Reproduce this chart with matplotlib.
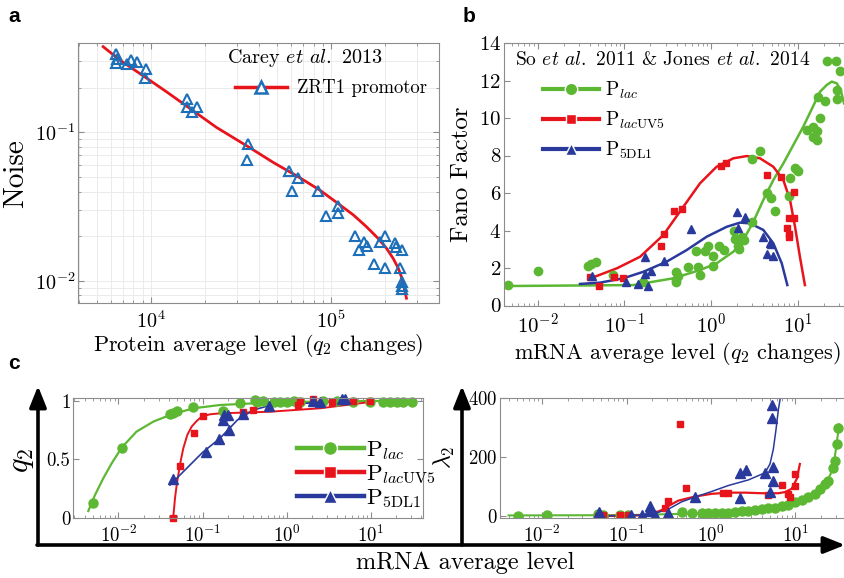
import matplotlib
matplotlib.use('Agg')
import matplotlib.pyplot as plt
from matplotlib.lines import Line2D
from matplotlib.patches import FancyArrowPatch
from matplotlib.ticker import NullFormatter, FixedLocator, FixedFormatter

plt.rcParams['font.family'] = 'serif'
plt.rcParams['font.serif'] = ['cmr10']
plt.rcParams['mathtext.fontset'] = 'cm'
plt.rcParams['axes.formatter.use_mathtext'] = True

# ---- panel a: Carey et al. 2013, ZRT1 promotor ----
a_x = [6370, 6370, 6500, 7390, 7720, 8390, 9350, 9230, 15900, 15800, 17000, 18100,
       34700, 34200, 58500, 65600, 60800, 84700, 109000, 109000, 94200, 136000,
       143000, 152000, 159000, 173000, 186000, 200000, 200000, 226000, 229000,
       246000, 240000, 249000, 249000, 249000]
a_y = [0.335, 0.294, 0.310, 0.288, 0.306, 0.299, 0.265, 0.231, 0.167, 0.149, 0.137,
       0.147, 0.0834, 0.0652, 0.0552, 0.049, 0.0405, 0.0403, 0.0321, 0.0288, 0.0275,
       0.0201, 0.0162, 0.0182, 0.0172, 0.013, 0.0182, 0.0201, 0.0122, 0.0181, 0.017,
       0.0162, 0.0122, 0.00989, 0.00925, 0.0088]
a_fit_x = [5430, 6730, 9350, 12200, 15800, 23100, 34700, 47700, 65600, 86500, 109000,
           133000, 157000, 182000, 203000, 221000, 236000, 249000, 256000, 262000]
a_fit_y = [0.377, 0.306, 0.234, 0.1875, 0.150, 0.108, 0.080, 0.0628, 0.0503, 0.0409,
           0.0333, 0.0278, 0.0232, 0.0194, 0.0166, 0.0142, 0.0122, 0.0102, 0.0087, 0.00766]

# ---- panel b: Fano factor ----
b_lac_x = [0.00454, 0.0102, 0.0384, 0.0409, 0.0468, 0.0733, 0.164, 0.395, 0.395, 0.414,
           0.395, 0.542, 0.678, 0.709, 0.741, 0.848, 0.927, 1.06, 1.06, 1.24, 1.41, 1.85,
           1.90, 2.02, 2.12, 2.28, 2.42, 2.95, 2.95, 3.69, 4.46, 4.88, 5.43, 8.12, 9.29,
           9.72, 10.2, 7.91, 12.7, 15.2, 16.7, 16.7, 18.2, 17.0, 20.9, 21.8, 27.3, 30.7,
           28.5, 28.5, 15.2]
b_lac_y = [1.12, 1.82, 2.12, 2.21, 2.30, 1.63, 1.27, 1.38, 1.77, 1.59, 1.27, 2.07, 2.92,
           2.04, 1.63, 2.92, 3.19, 2.65, 2.12, 3.19, 2.96, 3.95, 3.54, 3.19, 3.04, 3.66,
           3.49, 4.48, 7.79, 8.23, 6.02, 5.75, 5.04, 6.81, 7.35, 7.22, 7.17, 5.84, 9.38,
           9.5, 8.85, 9.29, 10.0, 11.1, 10.92, 13.04, 13.04, 12.53, 11.5, 11.03, 8.99]
b_lac_fit_x = [0.0048, 0.127, 0.367, 0.747, 1.16, 1.81, 2.36, 3.08, 4.01, 5.23, 6.83,
               11.6, 18.1, 21.6, 24.7, 28.2, 31.3, 34.2]
b_lac_fit_y = [1.04, 1.09, 1.45, 1.89, 2.25, 2.87, 3.49, 4.47, 5.63, 6.69, 7.58,
               9.54, 11.4, 11.76, 11.94, 11.85, 11.49, 10.78]

b_uv5_x = [0.0402, 0.0512, 0.0766, 0.0959, 0.262, 0.286, 0.378, 0.461, 1.29, 1.48, 4.46,
           6.38, 9.06, 7.98, 9.06, 7.43, 7.84, 7.84]
b_uv5_y = [1.5, 1.03, 1.5, 1.45, 3.15, 3.84, 5.04, 5.13, 7.43, 7.58, 6.94, 6.85, 6.07,
           4.69, 4.69, 4.11, 3.81, 3.68]
b_uv5_fit_x = [0.0459, 0.0817, 0.152, 0.282, 0.48, 0.747, 1.16, 1.81, 2.58, 3.67, 5.23,
               6.83, 8.15, 9.31, 10.6, 12.1]
b_uv5_fit_y = [1.54, 1.98, 2.60, 3.76, 5.27, 6.52, 7.40, 7.85, 7.97, 7.85, 7.40, 6.69,
               5.63, 4.20, 2.60, 1.09]

b_5dl_x = [0.042, 0.105, 0.144, 0.188, 0.172, 0.172, 0.202, 0.286, 0.588, 1.97, 2.02,
           2.49, 3.97, 4.74, 4.96, 4.46, 5.19]
b_5dl_y = [1.56, 1.27, 1.15, 1.06, 2.57, 1.68, 1.86, 2.35, 4.07, 4.99, 4.16, 4.74, 3.63,
           3.36, 3.27, 2.74, 2.65]
b_5dl_fit_x = [0.0308, 0.0525, 0.0975, 0.166, 0.308, 0.525, 0.892, 1.52, 2.16, 2.82,
               4.01, 5.23, 6.54, 7.59]
b_5dl_fit_y = [1.15, 1.22, 1.45, 1.80, 2.34, 2.96, 3.67, 4.20, 4.42, 4.38, 4.03, 3.32,
               2.25, 1.09]

# ---- panel c left: q2 ----
q_lac_x = [0.00493, 0.0109, 0.041, 0.0449, 0.0492, 0.0776, 0.176, 0.279, 0.42, 0.44, 0.53,
           0.70, 0.84, 1.01, 1.21, 1.45, 2.72, 3.93, 6.2, 9.8, 14.1, 16.9, 20.3, 24.4, 30.6]
q_lac_y = [0.127, 0.60, 0.884, 0.893, 0.912, 0.95, 0.912, 0.977, 1.006, 0.986, 0.997, 0.99,
           0.99, 0.99, 0.995, 0.99, 1.0, 0.995, 0.99, 0.99, 0.99, 0.99, 0.99, 0.99, 0.99]
q_lac_fit_x = [0.00438, 0.00525, 0.0066, 0.0083, 0.0109, 0.0164, 0.026, 0.041, 0.0776,
               0.161, 0.40, 1.58, 9.8, 30.6]
q_lac_fit_y = [0.062, 0.197, 0.34, 0.467, 0.60, 0.737, 0.822, 0.878, 0.935, 0.963, 0.977,
               0.99, 0.997, 0.997]

q_uv5_x = [0.0449, 0.0538, 0.0796, 0.102, 0.305, 0.40, 1.38, 1.44, 2.07, 3.5, 6.2, 9.8]
q_uv5_y = [0.0, 0.445, 0.728, 0.87, 0.905, 0.92, 0.96, 1.0, 1.01, 0.99, 1.0, 1.0]
q_uv5_fit_x = [0.0449, 0.047, 0.0492, 0.0538, 0.059, 0.0659, 0.0741, 0.0851, 0.0975,
               0.1225, 0.161, 0.634, 2.49, 10.2]
q_uv5_fit_y = [0.013, 0.170, 0.283, 0.454, 0.595, 0.709, 0.779, 0.827, 0.864, 0.884,
               0.892, 0.906, 0.935, 0.99]

q_5dl_x = [0.0449, 0.111, 0.155, 0.204, 0.176, 0.2, 0.18, 0.305, 0.62, 2.07, 2.49, 4.6, 5.0]
q_5dl_y = [0.331, 0.567, 0.672, 0.751, 0.836, 0.878, 0.88, 0.89, 0.958, 1.0, 0.99, 1.01, 1.01]
q_5dl_fit_x = [0.041, 0.1, 0.161, 0.26, 0.40, 0.634, 2.5, 5.0]
q_5dl_fit_y = [0.283, 0.56, 0.68, 0.836, 0.92, 0.96, 0.985, 0.995]

# ---- panel c right: lambda2 ----
l_lac_x = [0.00513, 0.0113, 0.046, 0.053, 0.0835, 0.105, 0.449, 0.59, 0.774, 0.93, 1.11,
           1.34, 1.60, 1.92, 2.31, 2.77, 3.32, 3.98, 4.78, 5.73, 6.87, 8.24, 9.89, 11.9,
           14.2, 17.1, 19.6, 22.4, 24.6, 28.2, 29.5, 30.9, 32.4]
l_lac_y = [0, 5, 8, 3, 3, 3, 12, 11, 11, 11, 11, 11, 11, 14, 16, 16, 20, 23, 26, 28, 35,
           37, 46, 53, 64, 75, 92, 108, 120, 164, 186, 242, 297]
l_lac_fit_x = [0.004, 0.1, 0.4, 1.0, 2.0, 4.0, 8.0, 12, 17, 22, 26, 29, 31, 33]
l_lac_fit_y = [2, 3, 7, 10, 14, 22, 38, 53, 75, 105, 140, 190, 250, 310]

l_uv5_x = [0.046, 0.053, 0.0835, 0.105, 0.285, 0.312, 0.428, 0.50, 1.39, 1.59, 4.78, 6.87,
           8.24, 8.6, 9.9, 9.9]
l_uv5_y = [0, 3, 3, 3, 27, 50, 311, 94, 79, 79, 72, 106, 74, 63, 102, 141]
l_uv5_fit_x = [0.0423, 0.105, 0.165, 0.217, 0.26, 0.327, 0.41, 0.646, 1.02, 1.60, 2.53,
               3.99, 6.28, 7.53, 9.03, 10.4, 11.3]
l_uv5_fit_y = [0, 1, 3, 11, 20, 37, 52, 66, 75, 79, 79, 77, 77, 81, 92, 126, 176]

l_5dl_x = [0.047, 0.113, 0.151, 0.189, 0.186, 0.215, 0.31, 0.646, 2.18, 2.62, 2.18, 4.36,
           5.0, 5.48, 5.48, 5.23, 5.23]
l_5dl_y = [14, 5, 3, 34, 16, 3, 9, 64, 146, 157, 60, 146, 81, 167, 117, 331, 376]
l_5dl_fit_x = [0.0423, 0.165, 0.217, 0.312, 0.449, 0.646, 1.02, 1.60, 2.77, 4.36, 5.0,
               5.48, 5.89, 6.28, 6.58]
l_5dl_fit_y = [0, 3, 9, 23, 48, 64, 83, 103, 122, 146, 176, 226, 292, 359, 394]

GREEN = '#5cb833'
RED = '#e8141c'
BLUE = '#2a3a9c'
ABLUE = '#1c6fb8'
GREY = '#8c8c8c'

W, H = 845, 578


def rect(l, t, r, b):
    return [l / W, 1 - b / H, (r - l) / W, (b - t) / H]


def style(ax, size):
    for s in ax.spines.values():
        s.set_color(GREY)
        s.set_linewidth(0.8)
    ax.tick_params(which='both', direction='in', top=True, right=True, color=GREY,
                   labelsize=size)
    ax.tick_params(which='major', length=4)
    ax.tick_params(which='minor', length=2)
    ax.tick_params(axis='y', pad=2)
    ax.tick_params(axis='x', pad=5)


fig = plt.figure(figsize=(8.45, 5.78), dpi=100)

# panel a
axa = fig.add_axes(rect(78.3, 43, 439, 303.3))
axa.set_xscale('log')
axa.set_yscale('log')
axa.set_xlim(10 ** 3.597, 10 ** 5.599)
axa.set_ylim(10 ** -2.15, 10 ** -0.399)
axa.grid(True, which='both', color='#ebebeb', lw=0.7)
axa.set_axisbelow(True)
axa.plot(a_fit_x, a_fit_y, color=RED, lw=2)
axa.plot(a_x, a_y, ls='none', marker='^', ms=6.5, mfc='none', mec=ABLUE, mew=1.5)
style(axa, 14.5)
axa.yaxis.set_minor_formatter(NullFormatter())
axa.xaxis.set_minor_formatter(NullFormatter())
axa.set_ylabel('Noise', fontsize=21, labelpad=4)
axa.set_xlabel(r'Protein average level ($q_2$ changes)', fontsize=16, labelpad=0)
axa.text(0.412, 0.942, r'Carey $et$ $al.$ 2013', transform=axa.transAxes,
         fontsize=14.5, va='center', ha='left')
ha = Line2D([], [], color=RED, lw=2.5, marker='^', ms=8, mfc='white', mec=ABLUE, mew=1.8)
axa.legend([ha], ['ZRT1 promotor'], loc='upper left', bbox_to_anchor=(0.434, 0.86),
           frameon=False, borderpad=0, borderaxespad=0, handlelength=2.8,
           handletextpad=0.5, fontsize=13.5)

# panel b
axb = fig.add_axes(rect(504, 43, 850, 305.5))
axb.set_xscale('log')
axb.set_xlim(10 ** -2.388, 10 ** 1.603)
axb.set_ylim(0, 14)
axb.set_yticks([0, 2, 4, 6, 8, 10, 12, 14])
axb.plot(b_lac_fit_x, b_lac_fit_y, color=GREEN, lw=1.8)
axb.plot(b_uv5_fit_x, b_uv5_fit_y, color=RED, lw=1.8)
axb.plot(b_5dl_fit_x, b_5dl_fit_y, color=BLUE, lw=1.8)
axb.plot(b_lac_x, b_lac_y, ls='none', marker='o', ms=6, color=GREEN)
axb.plot(b_uv5_x, b_uv5_y, ls='none', marker='s', ms=5, color=RED)
axb.plot(b_5dl_x, b_5dl_y, ls='none', marker='^', ms=6, color=BLUE)
style(axb, 15)
axb.xaxis.set_minor_formatter(NullFormatter())
axb.set_ylabel('Fano Factor', fontsize=18, labelpad=4)
axb.set_xlabel(r'mRNA average level ($q_2$ changes)', fontsize=16, labelpad=2)
axb.text(0.032, 0.935, r'So $et$ $al.$ 2011 & Jones $et$ $al.$ 2014',
         transform=axb.transAxes, fontsize=14, va='center', ha='left')

labels = [r'P$_{lac}$', r'P$_{lac\mathrm{UV5}}$', r'P$_{\mathrm{5DL1}}$']


def handles(lw, ms):
    return [Line2D([], [], color=GREEN, lw=lw, marker='o', ms=ms, mec='white', mew=1),
            Line2D([], [], color=RED, lw=lw, marker='s', ms=ms * 0.85, mec='white', mew=1),
            Line2D([], [], color=BLUE, lw=lw, marker='^', ms=ms, mec='white', mew=1)]


axb.legend(handles(3, 9), labels, loc='upper left', bbox_to_anchor=(0.113, 0.86),
           frameon=False, borderpad=0, borderaxespad=0, handlelength=2.9,
           handletextpad=0.3, labelspacing=0.45, fontsize=14)

# panel c left
axc = fig.add_axes(rect(73.3, 398.3, 423, 518.3))
axc.set_xscale('log')
axc.set_xlim(10 ** -2.537, 10 ** 1.621)
axc.set_ylim(0, 1.02)
axc.yaxis.set_major_locator(FixedLocator([0, 0.5, 1]))
axc.yaxis.set_major_formatter(FixedFormatter(['0', '0.5', '1']))
axc.plot(q_lac_fit_x, q_lac_fit_y, color=GREEN, lw=1.6)
axc.plot(q_uv5_fit_x, q_uv5_fit_y, color=RED, lw=1.4)
axc.plot(q_5dl_fit_x, q_5dl_fit_y, color=BLUE, lw=1.2)
axc.plot(q_lac_x, q_lac_y, ls='none', marker='o', ms=6.5, color=GREEN, clip_on=False)
axc.plot(q_uv5_x, q_uv5_y, ls='none', marker='s', ms=5, color=RED, clip_on=False)
axc.plot(q_5dl_x, q_5dl_y, ls='none', marker='^', ms=6.5, color=BLUE, clip_on=False)
style(axc, 13.5)
axc.xaxis.set_minor_formatter(NullFormatter())
axc.legend(handles(3.2, 10), labels, loc='upper left', bbox_to_anchor=(0.64, 0.66),
           frameon=False, borderpad=0, borderaxespad=0, handlelength=2.9,
           handletextpad=0.1, labelspacing=0.05, fontsize=16.5)

# panel c right
axl = fig.add_axes(rect(500, 397.7, 850, 517.7))
axl.set_xscale('log')
axl.set_xlim(10 ** -2.5, 10 ** 1.647)
axl.set_ylim(-5.7, 400)
axl.set_yticks([0, 200, 400])
axl.plot(l_lac_fit_x, l_lac_fit_y, color=GREEN, lw=1.5)
axl.plot(l_uv5_fit_x, l_uv5_fit_y, color=RED, lw=1.6)
axl.plot(l_5dl_fit_x, l_5dl_fit_y, color=BLUE, lw=1.1)
axl.plot(l_lac_x, l_lac_y, ls='none', marker='o', ms=6.5, color=GREEN)
axl.plot(l_uv5_x, l_uv5_y, ls='none', marker='s', ms=5, color=RED)
axl.plot(l_5dl_x, l_5dl_y, ls='none', marker='^', ms=6.5, color=BLUE)
style(axl, 13.5)
axl.xaxis.set_minor_formatter(NullFormatter())


# big axis arrows of panel c
def arrow(x0, y0, x1, y1):
    fig.add_artist(FancyArrowPatch((x0 / W, 1 - y0 / H), (x1 / W, 1 - y1 / H),
                                   transform=fig.transFigure, color='black', lw=2.6,
                                   arrowstyle='-|>,head_width=0.32,head_length=0.8',
                                   mutation_scale=16, shrinkA=0, shrinkB=0))


arrow(38, 545, 38, 386)
arrow(462, 545, 462, 386)
arrow(37, 545, 845, 545)
fig.text(465 / W, 1 - 563 / H, 'mRNA average level', fontsize=17.5, ha='center', va='center')
fig.text(22 / W, 1 - 460 / H, r'$q_2$', fontsize=22, rotation=90, ha='center', va='center')
fig.text(444 / W, 1 - 457 / H, r'$\lambda_2$', fontsize=17, rotation=90, ha='center', va='center')

# panel letters
for x, y, s in [(8, 22, 'a'), (463, 22, 'b'), (8, 369, 'c')]:
    fig.text(x / W, 1 - y / H, s, family='Liberation Sans', weight='bold', fontsize=15,
             va='baseline', ha='left')

fig.savefig('out.png', dpi=100)
